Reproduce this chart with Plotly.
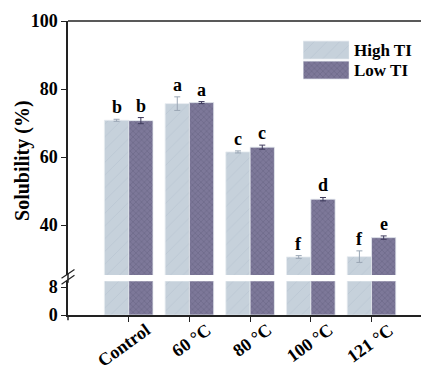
import plotly.graph_objects as go

categories = ["Control", "60 °C", "80 °C", "100 °C", "121 °C"]
high_ti = [70.8, 75.7, 61.5, 30.6, 30.7]
high_err = [0.3, 2.0, 0.3, 0.4, 1.7]
low_ti = [70.7, 76.0, 62.9, 47.6, 36.3]
low_err = [0.9, 0.3, 0.6, 0.5, 0.5]
high_letters = ["b", "a", "c", "f", "f"]
low_letters = ["b", "a", "c", "d", "e"]
legend_names = ["Low TI", "High TI"]
bottom_ticks = [0, 8]
top_ticks = [40, 60, 80, 100]

HIGH_BG, HIGH_FG = "#c6d1db", "#b0bdca"
LOW_BG, LOW_FG = "#7d7899", "#5a5677"
FONT = "Liberation Serif"

fig = go.Figure()

for yax, show_err in [("y", False), ("y2", True)]:
    fig.add_trace(go.Bar(
        x=categories, y=high_ti, yaxis=yax, name="High TI", showlegend=False,
        marker=dict(color=HIGH_BG, line=dict(color="#e6ebf0", width=0.8),
                    pattern=dict(shape="/", fgcolor=HIGH_FG, bgcolor=HIGH_BG, size=9, solidity=0.1)),
        error_y=dict(type="data", array=high_err, visible=show_err, color="#9aa6b4", thickness=1, width=3),
    ))
    fig.add_trace(go.Bar(
        x=categories, y=low_ti, yaxis=yax, name="Low TI", showlegend=False,
        marker=dict(color=LOW_BG, line=dict(color="#e6ebf0", width=0.8),
                    pattern=dict(shape="x", fgcolor=LOW_FG, bgcolor=LOW_BG, size=4, solidity=0.3)),
        error_y=dict(type="data", array=low_err, visible=show_err, color="#3e3a5c", thickness=1, width=3),
    ))

# legend as inset bars
fig.add_trace(go.Bar(
    x=[1], y=[legend_names[1]], orientation="h", xaxis="x3", yaxis="y3", showlegend=False,
    marker=dict(color=HIGH_BG, line=dict(color="#e6ebf0", width=0.8),
                pattern=dict(shape="/", fgcolor=HIGH_FG, bgcolor=HIGH_BG, size=9, solidity=0.1)),
    hoverinfo="skip", width=0.9,
))
fig.add_trace(go.Bar(
    x=[1], y=[legend_names[0]], orientation="h", xaxis="x3", yaxis="y3", showlegend=False,
    marker=dict(color=LOW_BG, line=dict(color="#e6ebf0", width=0.8),
                pattern=dict(shape="x", fgcolor=LOW_FG, bgcolor=LOW_BG, size=4, solidity=0.3)),
    hoverinfo="skip", width=0.9,
))

lf = dict(family=FONT, size=18, color="black")
annotations = []
for i in range(len(categories)):
    annotations.append(dict(x=i - 0.2, y=high_ti[i] + high_err[i], xref="x", yref="y2",
                            text="<b>%s</b>" % high_letters[i], showarrow=False, yanchor="bottom", yshift=0,
                            font=lf))
    annotations.append(dict(x=i + 0.2, y=low_ti[i] + low_err[i], xref="x", yref="y2",
                            text="<b>%s</b>" % low_letters[i], showarrow=False, yanchor="bottom", yshift=0,
                            font=lf))
    # category labels (rotated)
    annotations.append(dict(x=i, y=0, xref="x", yref="paper", text="<b>%s</b>" % categories[i],
                            showarrow=False, textangle=-36, xanchor="right", yanchor="top",
                            xshift=27, yshift=-3, borderpad=0,
                            font=dict(family=FONT, size=18, color="black")))
for name in legend_names:
    annotations.append(dict(x=1.0, y=name, xref="x3", yref="y3", text="<b>%s</b>" % name, showarrow=False,
                            xanchor="left", xshift=3,
                            font=dict(family=FONT, size=17, color="black")))
annotations.append(dict(x=-0.128, y=0.527, xref="paper", yref="paper", text="<b>Solubility (%)</b>",
                        textangle=-90, showarrow=False, xanchor="center", yanchor="middle",
                        font=dict(family=FONT, size=20, color="black")))

line_c = "#222222"
shapes = [
    dict(type="line", xref="paper", yref="paper", x0=0, x1=1, y0=1, y1=1, line=dict(color=line_c, width=1.5)),
    dict(type="line", xref="paper", yref="paper", x0=0, x1=0, y0=0.11, y1=0.14, line=dict(color=line_c, width=1.5)),
    dict(type="line", xref="paper", yref="paper", x0=-0.018, x1=0.018, y0=0.105, y1=0.135, line=dict(color=line_c, width=1.2)),
    dict(type="line", xref="paper", yref="paper", x0=-0.018, x1=0.018, y0=0.125, y1=0.155, line=dict(color=line_c, width=1.2)),
    dict(type="line", xref="paper", yref="paper", x0=0, x1=0, y0=0, y1=-0.018, line=dict(color=line_c, width=1.5)),
]

yfont = dict(family=FONT, size=18, color="black")
fig.update_layout(
    width=421, height=361,
    margin=dict(l=60, r=1, t=13, b=54, autoexpand=False),
    plot_bgcolor="white", paper_bgcolor="white",
    barmode="group", bargap=0.2, bargroupgap=0,
    xaxis=dict(type="category", range=[-1, 4.93], showline=True, linecolor=line_c, linewidth=1.5,
               ticks="outside", ticklen=5, tickcolor=line_c, showticklabels=False,
               showgrid=False, anchor="y", automargin=False),
    yaxis=dict(domain=[0, 0.115], range=[0, 9.7], tickvals=bottom_ticks,
               ticktext=["<b>%d</b>" % v for v in bottom_ticks], showline=True, linecolor=line_c,
               linewidth=1.5, ticks="outside", ticklen=5, tickcolor=line_c, tickfont=yfont,
               showgrid=False, zeroline=False, automargin=False),
    yaxis2=dict(domain=[0.136, 1], range=[25.3, 100], tickvals=top_ticks,
                ticktext=["<b>%d</b>" % v for v in top_ticks], showline=True,
                linecolor=line_c, linewidth=1.5, ticks="outside", ticklen=5, tickcolor=line_c,
                tickfont=yfont, showgrid=False, zeroline=False, anchor="x", automargin=False),
    xaxis3=dict(domain=[0.653, 0.781], range=[0, 1], visible=False, anchor="y3"),
    yaxis3=dict(domain=[0.799, 0.935], range=[-0.5, 1.5], visible=False, anchor="x3",
                type="category", categoryorder="array", categoryarray=legend_names),
    annotations=annotations,
    shapes=shapes,
    showlegend=False,
)

fig.write_html("out.html")
